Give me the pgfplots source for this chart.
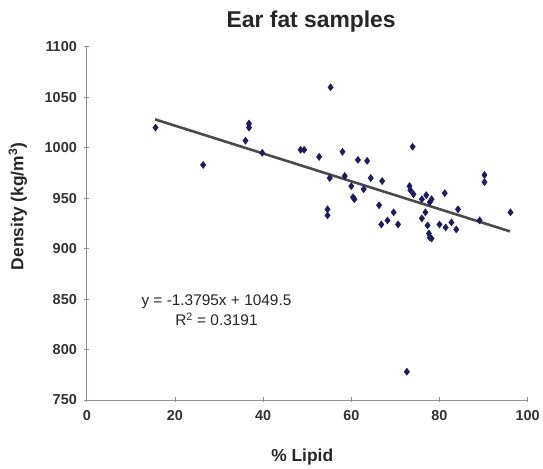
\documentclass[border=0pt]{standalone}
\usepackage{pgfplots}
\pgfplotsset{compat=1.18}
\usepackage{fontspec}
\setmainfont{Liberation Sans}
\definecolor{mk}{RGB}{28,28,92}
\definecolor{ln}{RGB}{75,75,75}
\definecolor{ax}{RGB}{150,140,145}
\begin{document}
\begin{tikzpicture}[x=1bp,y=1bp]
\begin{axis}[
  at={(0,0)}, anchor=south west,
  scale only axis, width=442bp, height=354bp,
  xmin=0, xmax=100, ymin=750, ymax=1100,
  xtick={0,20,...,100}, ytick={750,800,...,1100},
  axis lines*=left,
  axis line style={ax, line width=0.8pt},
  tick style={ax, line width=0.8pt},
  tick align=center, major tick length=5bp,
  /pgf/number format/assume math mode=true,
  /pgf/number format/1000 sep={},
  ticklabel style={font=\fontsize{14.5}{16}\selectfont\bfseries, text=black!80},
  yticklabel style={xshift=-4bp},
  xticklabel style={yshift=-4bp},
  clip=false,
]
\addplot[only marks, mark=diamond*, mark size=3.6bp, mk, mark options={fill=mk, draw=mk}] table {
x y
15.6 1020
26.4 983
36.8 1024
36.8 1020
36.0 1007
39.8 995
48.5 998
49.3 998
52.7 991
55.3 1060
58.0 996
61.5 988
63.6 987
73.9 1001
55.1 970
58.5 972
60.0 962
62.8 959
64.4 970
67.0 967
60.4 951
60.7 949
54.6 939
54.6 933
66.3 943
69.6 936
68.2 928
66.8 924
70.6 924
73.2 962
73.4 958
74.1 954
76.0 949
77.0 953
78.2 949
77.8 946
81.2 955
76.8 936
76.0 930
77.3 923
80.0 924
81.4 921
82.7 926
84.2 939
83.8 919
77.6 915
77.8 911
78.2 910
90.2 973
90.2 966
96.1 936
89.1 928
72.6 778
};
\addplot[ln, line width=2.6bp] coordinates {(15.5,1028.1) (96,917.1)};
\end{axis}
\node[font=\fontsize{23}{26}\selectfont\bfseries, text=black!85] at (225,379) {Ear fat samples};
\node[font=\fontsize{17.5}{20}\selectfont\bfseries, text=black!85] at (216,-57) {\% Lipid};
\node[font=\fontsize{17.5}{20}\selectfont\bfseries, text=black!85, rotate=90] at (-69,194) {Density (kg/m\textsuperscript{3})};
\node[font=\fontsize{15.5}{18}\selectfont, text=black!85] at (130,99) {y = -1.3795x + 1049.5};
\node[font=\fontsize{15.5}{18}\selectfont, text=black!85] at (130,81) {R\textsuperscript{2} = 0.3191};
\path[use as bounding box] (-87,-69) rectangle (456,401);
\end{tikzpicture}
\end{document}
